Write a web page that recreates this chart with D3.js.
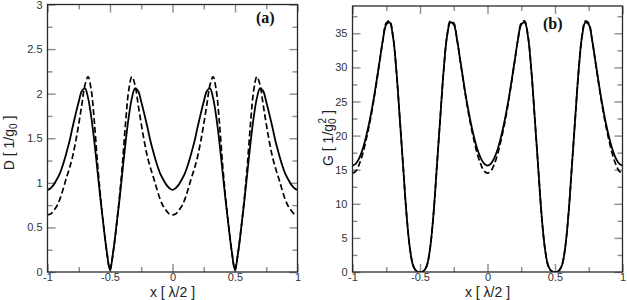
<!DOCTYPE html>
<html><head><meta charset="utf-8">
<script src="https://cdn.jsdelivr.net/npm/d3@7"></script>
<style>
html,body{margin:0;padding:0;background:#fff;}
svg{display:block;}
text{font-family:"Liberation Sans",Arial,Helvetica,sans-serif;}
</style></head>
<body>
<svg id="chart" width="627" height="300"></svg>
<script>
// ---- data ----
const xs = [-1,-0.975,-0.95,-0.925,-0.9,-0.875,-0.85,-0.825,-0.8,-0.775,-0.75,-0.725,-0.7,-0.675,-0.65,-0.625,-0.6,-0.575,-0.55,-0.525,-0.5,
  -0.475,-0.45,-0.425,-0.4,-0.375,-0.35,-0.325,-0.3,-0.275,-0.25,-0.225,-0.2,-0.175,-0.15,-0.125,-0.1,-0.075,-0.05,-0.025,0,
  0.025,0.05,0.075,0.1,0.125,0.15,0.175,0.2,0.225,0.25,0.275,0.3,0.325,0.35,0.375,0.4,0.425,0.45,0.475,0.5,
  0.525,0.55,0.575,0.6,0.625,0.65,0.675,0.7,0.725,0.75,0.775,0.8,0.825,0.85,0.875,0.9,0.925,0.95,0.975,1];

const dSolid = [0.92,0.94,0.98,1.04,1.11,1.21,1.33,1.46,1.62,1.77,1.91,2.03,2.06,1.95,1.74,1.46,1.13,0.80,0.50,0.22,0.02,
  0.22,0.50,0.80,1.13,1.46,1.74,1.95,2.06,2.03,1.91,1.77,1.62,1.46,1.33,1.21,1.11,1.04,0.98,0.94,0.92,
  0.94,0.98,1.04,1.11,1.21,1.33,1.46,1.62,1.77,1.91,2.03,2.06,1.95,1.74,1.46,1.13,0.80,0.50,0.22,0.02,
  0.22,0.50,0.80,1.13,1.46,1.74,1.95,2.06,2.03,1.91,1.77,1.62,1.46,1.33,1.21,1.11,1.04,0.98,0.94,0.92];

const dDashed = [0.64,0.65,0.69,0.74,0.82,0.93,1.05,1.16,1.29,1.46,1.66,1.88,2.10,2.19,2.04,1.68,1.22,0.83,0.50,0.22,0.02,
  0.22,0.50,0.83,1.22,1.68,2.04,2.19,2.10,1.88,1.66,1.46,1.29,1.16,1.05,0.93,0.82,0.74,0.69,0.65,0.64,
  0.65,0.69,0.74,0.82,0.93,1.05,1.16,1.29,1.46,1.66,1.88,2.10,2.19,2.04,1.68,1.22,0.83,0.50,0.22,0.02,
  0.22,0.50,0.83,1.22,1.68,2.04,2.19,2.10,1.88,1.66,1.46,1.29,1.16,1.05,0.93,0.82,0.74,0.69,0.65,0.64];

const gSolid = [15.6,15.9,16.7,18.0,19.8,22.0,24.6,27.6,30.8,34.0,36.3,36.6,34.5,29.5,22.6,15.5,8.5,3.5,0.9,0.12,0,
  0.12,0.9,3.5,8.5,15.5,22.6,29.5,34.5,36.6,36.3,34.0,30.8,27.6,24.6,22.0,19.8,18.0,16.7,15.9,15.6,
  15.9,16.7,18.0,19.8,22.0,24.6,27.6,30.8,34.0,36.3,36.6,34.5,29.5,22.6,15.5,8.5,3.5,0.9,0.12,0,
  0.12,0.9,3.5,8.5,15.5,22.6,29.5,34.5,36.6,36.3,34.0,30.8,27.6,24.6,22.0,19.8,18.0,16.7,15.9,15.6];

const gDashed = [14.5,14.8,15.8,17.3,19.3,21.6,24.3,27.4,30.7,34.0,36.5,36.8,34.6,29.5,22.6,15.5,8.5,3.5,0.9,0.12,0,
  0.12,0.9,3.5,8.5,15.5,22.6,29.5,34.6,36.8,36.5,34.0,30.7,27.4,24.3,21.6,19.3,17.3,15.8,14.8,14.5,
  14.8,15.8,17.3,19.3,21.6,24.3,27.4,30.7,34.0,36.5,36.8,34.6,29.5,22.6,15.5,8.5,3.5,0.9,0.12,0,
  0.12,0.9,3.5,8.5,15.5,22.6,29.5,34.6,36.8,36.5,34.0,30.7,27.4,24.3,21.6,19.3,17.3,15.8,14.8,14.5];

const xTicks = [-1,-0.5,0,0.5,1];
const xMinor = [-0.75,-0.25,0.25,0.75];
const dTicks = [0,0.5,1,1.5,2,2.5,3];
const dMinor = [0.25,0.75,1.25,1.75,2.25,2.75];
const gTicks = [0,5,10,15,20,25,30,35];
const gMinor = [2.5,7.5,12.5,17.5,22.5,27.5,32.5,37.5];

// ---- drawing ----
const svg = d3.select("#chart");

function panel(cfg){
  const {left,right,top,bottom,yDomain,yTicks,yMinor,solid,dashed,tag,tagX,tagY,id} = cfg;
  const x = d3.scaleLinear().domain([-1,1]).range([left,right]);
  const y = d3.scaleLinear().domain(yDomain).range([bottom,top]);
  const g = svg.append("g");

  g.append("clipPath").attr("id",id).append("rect")
    .attr("x",left).attr("y",top).attr("width",right-left).attr("height",bottom-top);

  const fmt = d => String(d);
  const styleAxis = (sel, labels) => {
    sel.select(".domain").remove();
    sel.selectAll(".tick line").attr("stroke","#8c8c8c").attr("stroke-width",1.4);
    sel.selectAll(".tick text").attr("fill","#333").style("font-size","11px");
    if(!labels) sel.selectAll(".tick text").remove();
  };

  // bottom
  g.append("g").attr("transform",`translate(0,${bottom})`)
    .call(d3.axisBottom(x).tickValues(xTicks).tickSize(-8).tickPadding(1).tickFormat(fmt))
    .call(s=>styleAxis(s,true));
  g.append("g").attr("transform",`translate(0,${bottom})`)
    .call(d3.axisBottom(x).tickValues(xMinor).tickSize(-5).tickFormat(""))
    .call(s=>styleAxis(s,false));
  // top
  g.append("g").attr("transform",`translate(0,${top})`)
    .call(d3.axisTop(x).tickValues(xTicks).tickSize(-8).tickFormat(""))
    .call(s=>styleAxis(s,false));
  g.append("g").attr("transform",`translate(0,${top})`)
    .call(d3.axisTop(x).tickValues(xMinor).tickSize(-5).tickFormat(""))
    .call(s=>styleAxis(s,false));
  // left
  g.append("g").attr("transform",`translate(${left},0)`)
    .call(d3.axisLeft(y).tickValues(yTicks).tickSize(-8).tickPadding(5).tickFormat(fmt))
    .call(s=>styleAxis(s,true));
  g.append("g").attr("transform",`translate(${left},0)`)
    .call(d3.axisLeft(y).tickValues(yMinor).tickSize(-5).tickFormat(""))
    .call(s=>styleAxis(s,false));
  // right
  g.append("g").attr("transform",`translate(${right},0)`)
    .call(d3.axisRight(y).tickValues(yTicks).tickSize(-8).tickFormat(""))
    .call(s=>styleAxis(s,false));
  g.append("g").attr("transform",`translate(${right},0)`)
    .call(d3.axisRight(y).tickValues(yMinor).tickSize(-5).tickFormat(""))
    .call(s=>styleAxis(s,false));

  const line = d3.line().x((d,i)=>x(xs[i])).y(d=>y(d)).curve(d3.curveCatmullRom.alpha(0.5));
  const lines = g.append("g").attr("clip-path",`url(#${id})`);
  lines.append("path").datum(dashed).attr("d",line).attr("fill","none")
    .attr("stroke","#000").attr("stroke-width",1.7).attr("stroke-dasharray","6,3");
  lines.append("path").datum(solid).attr("d",line).attr("fill","none")
    .attr("stroke","#000").attr("stroke-width",1.8);

  g.append("rect").attr("x",left).attr("y",top).attr("width",right-left).attr("height",bottom-top)
    .attr("fill","none").attr("stroke","#2a2a2a").attr("stroke-width",1.3);

  g.append("text").attr("x",tagX).attr("y",tagY).text(tag)
    .style("font-family","'Liberation Serif','Times New Roman',serif")
    .style("font-weight","bold").style("font-size","16px").attr("fill","#111");

  // x label
  g.append("text").attr("x",(left+right)/2).attr("y",296.8).attr("text-anchor","middle")
    .style("font-size","14px").attr("fill","#222").attr("xml:space","preserve").text("x [ λ/2 ]");
  return {x,y,g};
}

panel({left:47.5,right:297.5,top:4.5,bottom:272,yDomain:[0,3],yTicks:dTicks,yMinor:dMinor,
  solid:dSolid,dashed:dDashed,tag:"(a)",tagX:256,tagY:23,id:"clipA"});
panel({left:352.5,right:622.5,top:6,bottom:272,yDomain:[0,39],yTicks:gTicks,yMinor:gMinor,
  solid:gSolid,dashed:gDashed,tag:"(b)",tagX:543,tagY:29,id:"clipB"});

// y labels
const yl1 = svg.append("text").attr("transform","translate(14,143) rotate(-90)")
  .attr("text-anchor","middle").style("font-size","14px").attr("fill","#222");
yl1.append("tspan").text("D [ 1/g");
yl1.append("tspan").attr("baseline-shift","-25%").style("font-size","10px").text("0");
yl1.append("tspan").text(" ]");

const yl2 = svg.append("text").attr("transform","translate(333,138) rotate(-90)")
  .attr("text-anchor","middle").style("font-size","14px").attr("fill","#222");
yl2.append("tspan").text("G [ 1/g");
yl2.append("tspan").attr("baseline-shift","-25%").style("font-size","10px").text("0");
yl2.append("tspan").attr("dx","-5").attr("baseline-shift","70%").style("font-size","10px").text("2");
yl2.append("tspan").text(" ]");
</script>
</body></html>
